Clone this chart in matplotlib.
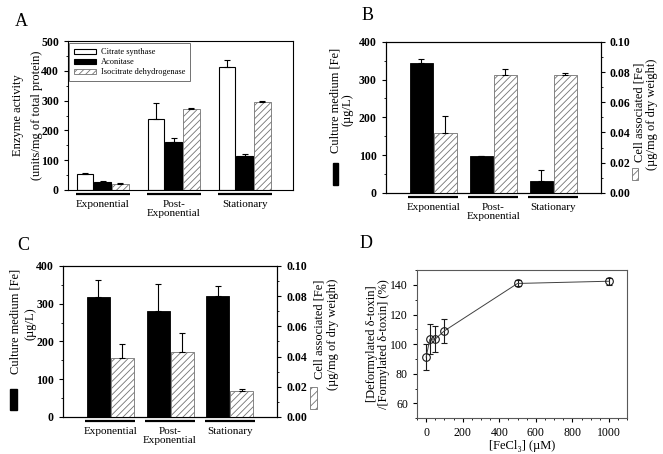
import numpy as np
import matplotlib
matplotlib.use("Agg")
import matplotlib.pyplot as plt
from matplotlib.patches import Rectangle
from matplotlib.ticker import MultipleLocator

plt.rcParams['font.family'] = ['Liberation Serif', 'DejaVu Serif']
plt.rcParams['hatch.linewidth'] = 0.6
plt.rcParams['axes.linewidth'] = 0.8

# ---- data ----
phases = ["Exponential", "Post-\nExponential", "Stationary"]

# panel A: enzyme activity (units/mg of total protein)
cs = [54, 240, 412]
cs_err = [3, 53, 23]
aco = [28, 160, 113]
aco_err = [2, 15, 8]
icd = [20, 273, 296]
icd_err = [4, 4, 3]

# panel B: culture medium Fe (ug/L) and cell associated Fe (ug/mg)
b_med = [345, 97, 31]
b_med_err = [9, 2, 29]
b_cell = [0.0394, 0.0779, 0.0781]
b_cell_err = [0.0115, 0.004, 0.0015]

# panel C
c_med = [317, 280, 320]
c_med_err = [46, 72, 27]
c_cell = [0.0389, 0.0427, 0.0173]
c_cell_err = [0.0091, 0.0131, 0.0013]

# panel D: deformylated/formylated delta-toxin vs FeCl3
fecl3 = [0, 20, 50, 100, 500, 1000]
ratio = [91.3, 103.3, 103.5, 109, 141, 142.5]
ratio_err = [8.5, 10, 9, 8, 2, 2.5]

fig = plt.figure(figsize=(6.63, 4.54), dpi=100)

TICK = 8
LAB = 9
x = np.arange(3)
hatch_col = '0.45'


def up_err(e):
    return [np.zeros(len(e)), e]


def underline(ax, half, yoff):
    tr = ax.get_xaxis_transform()
    for xi in x:
        ax.plot([xi - half, xi + half], [yoff, yoff], color='k', lw=1.6,
                transform=tr, clip_on=False, solid_capstyle='butt')


def cat_axis(ax):
    ax.set_xticks(x)
    ax.set_xticklabels(phases, fontsize=TICK, linespacing=1.0)
    ax.tick_params(axis='x', length=0, pad=7)


def num_ticks(ax):
    for lab in ax.get_yticklabels():
        lab.set_fontweight('bold')
        lab.set_fontsize(8.5)


# ---------- A ----------
axA = fig.add_axes([0.1026, 0.5815, 0.339, 0.328])
w = 0.235
ekw = dict(elinewidth=0.8, capsize=2.5, capthick=0.8, ecolor='k')
axA.bar(x - 0.25, cs, w, yerr=up_err(cs_err), color='white', edgecolor='k',
        lw=0.8, error_kw=ekw, label='Citrate synthase')
axA.bar(x, aco, w, yerr=up_err(aco_err), color='black', edgecolor='k',
        lw=0.8, error_kw=ekw, label='Aconitase')
axA.bar(x + 0.25, icd, w, yerr=up_err(icd_err), color='white',
        edgecolor=hatch_col, hatch='/////', lw=0.6, error_kw=ekw,
        label='Isocitrate dehydrogenase')
axA.set_xlim(-0.49, 2.68)
axA.set_ylim(0, 500)
axA.yaxis.set_major_locator(MultipleLocator(100))
axA.yaxis.set_minor_locator(MultipleLocator(50))
axA.tick_params(axis='y', direction='out', length=3, width=0.8)
axA.tick_params(axis='y', which='minor', length=1.5)
cat_axis(axA)
underline(axA, 0.38, -0.029)
num_ticks(axA)
axA.text(-0.222, 0.5, "Enzyme activity", rotation=90, ha='center',
         va='center', fontsize=LAB, transform=axA.transAxes)
axA.text(-0.14, 0.5, "(units/mg of total protein)", rotation=90,
         ha='center', va='center', fontsize=LAB, transform=axA.transAxes)
leg = axA.legend(loc='upper left', bbox_to_anchor=(0.005, 0.985),
                 fontsize=6, frameon=True, fancybox=False, handlelength=2.6,
                 handleheight=0.55, labelspacing=0.25, borderpad=0.6,
                 handletextpad=0.6, borderaxespad=0)
leg.get_frame().set_edgecolor('0.3')
leg.get_frame().set_linewidth(0.7)
fig.text(15 / 663, 1 - 22 / 454, "A", fontsize=13, va='center')


def fe_panel(rect, med, med_err, cell, cell_err, lpos, labels):
    ax = fig.add_axes(rect)
    ax2 = ax.twinx()
    bw = 0.385
    ax.bar(x - 0.2, med, bw, yerr=up_err(med_err), color='black',
           edgecolor='k', lw=0.6, error_kw=ekw, zorder=2)
    ax2.bar(x + 0.2, cell, bw, yerr=up_err(cell_err), color='white',
            edgecolor=hatch_col, hatch='/////', lw=0.6, error_kw=ekw)
    ax.set_xlim(-0.79, 2.79)
    ax.set_ylim(0, 400)
    ax2.set_ylim(0, 0.10)
    ax.yaxis.set_major_locator(MultipleLocator(100))
    ax.yaxis.set_minor_locator(MultipleLocator(50))
    ax2.yaxis.set_major_locator(MultipleLocator(0.02))
    ax2.yaxis.set_minor_locator(MultipleLocator(0.01))
    ax2.yaxis.set_major_formatter(plt.FuncFormatter(lambda v, p: f"{v:.2f}"))
    for a in (ax, ax2):
        a.tick_params(axis='y', direction='out', length=3, width=0.8)
        a.tick_params(axis='y', which='minor', length=1.5)
    cat_axis(ax)
    underline(ax, 0.42, -0.027)
    num_ticks(ax)
    num_ticks(ax2)
    (l1x, l1y), (l2x, l2y), (rx0, rx1, ry0, ry1), \
        (r1x, r1y), (r2x, r2y), (hx0, hx1, hy0, hy1) = lpos
    ax.text(l1x, l1y, labels[0], rotation=90, ha='center', va='center',
            fontsize=LAB, transform=ax.transAxes)
    ax.text(l2x, l2y, labels[1], rotation=90, ha='center', va='center',
            fontsize=LAB, transform=ax.transAxes)
    ax.add_patch(Rectangle((rx0, ry0), rx1 - rx0, ry1 - ry0,
                           transform=ax.transAxes, clip_on=False,
                           facecolor='black', edgecolor='black'))
    ax.text(r1x, r1y, labels[2], rotation=90, ha='center', va='center',
            fontsize=LAB, transform=ax.transAxes)
    ax.text(r2x, r2y, labels[3], rotation=90, ha='center', va='center',
            fontsize=LAB, transform=ax.transAxes)
    ax.add_patch(Rectangle((hx0, hy0), hx1 - hx0, hy1 - hy0,
                           transform=ax.transAxes, clip_on=False,
                           facecolor='white', edgecolor=hatch_col,
                           hatch='////', lw=0.6))
    return ax


fe_labels = ["Culture medium [Fe]", "(µg/L)",
             "Cell associated [Fe]", "(µg/mg of dry weight)"]

# ---------- B ----------
fe_panel([0.582, 0.575, 0.324, 0.333], b_med, b_med_err, b_cell, b_cell_err,
         [(-0.235, 0.61), (-0.18, 0.55), (-0.247, -0.223, 0.053, 0.2),
          (1.181, 0.536), (1.237, 0.517), (1.144, 1.172, 0.086, 0.166)],
         fe_labels)
fig.text(362 / 663, 1 - 15 / 454, "B", fontsize=13, va='center')

# ---------- C ----------
fe_panel([0.095, 0.0815, 0.323, 0.333], c_med, c_med_err, c_cell, c_cell_err,
         [(-0.22, 0.63), (-0.154, 0.62), (-0.248, -0.215, 0.046, 0.185),
          (1.196, 0.58), (1.26, 0.55), (1.154, 1.187, 0.053, 0.2)],
         fe_labels)
fig.text(17 / 663, 1 - 245 / 454, "C", fontsize=13, va='center')

# ---------- D ----------
axD = fig.add_axes([0.629, 0.079, 0.317, 0.326])
axD.errorbar(fecl3, ratio, yerr=ratio_err, fmt='-o', color='0.25', lw=0.7,
             mfc='none', mec='0.1', ms=5.5, mew=0.8, elinewidth=0.8,
             ecolor='0.1', capsize=2.5, capthick=0.8)
axD.set_xlim(-50, 1100)
axD.set_ylim(50, 150)
axD.xaxis.set_major_locator(MultipleLocator(200))
axD.xaxis.set_minor_locator(MultipleLocator(50))
axD.set_yticks([60, 80, 100, 120, 140])
axD.yaxis.set_minor_locator(MultipleLocator(10))
axD.tick_params(direction='out', length=3, width=0.8, labelsize=8.5)
axD.tick_params(which='minor', length=1.5)
for s in axD.spines.values():
    s.set_color('0.35')
axD.text(0.5, -0.19, "[FeCl₃] (µM)", ha='center', va='center',
         fontsize=LAB, transform=axD.transAxes)
axD.text(-0.215, 0.5, "[Deformylated δ-toxin]", rotation=90, ha='center',
         va='center', fontsize=LAB, transform=axD.transAxes)
axD.text(-0.155, 0.5, "/[Formylated δ-toxin] (%)", rotation=90, ha='center',
         va='center', fontsize=LAB, transform=axD.transAxes)
fig.text(360 / 663, 1 - 243 / 454, "D", fontsize=13, va='center')

fig.savefig("out.png", dpi=100)
